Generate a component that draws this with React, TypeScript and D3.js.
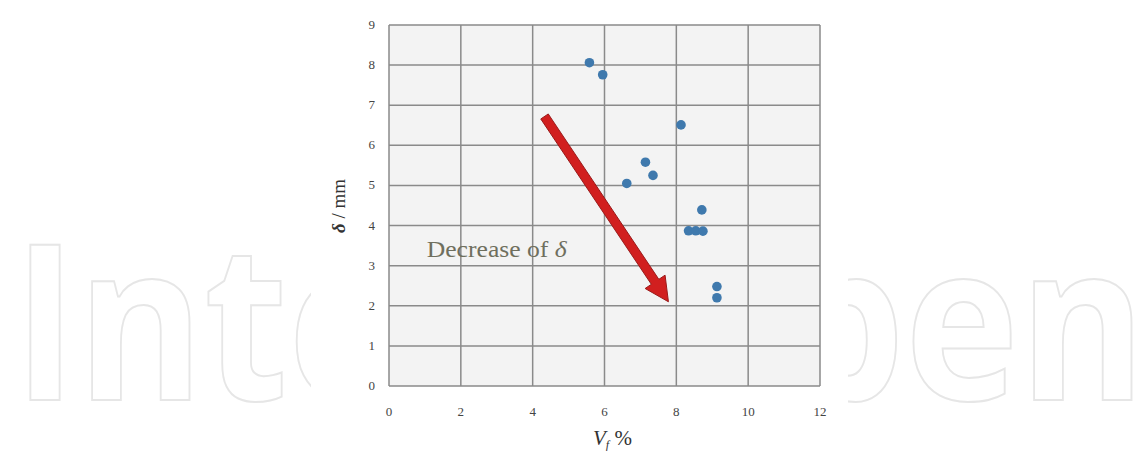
import React from "react";
import * as d3 from "d3";

// Fibre volume fraction (%) and measured deflection δ (mm)
const fibreContent = [5.58, 5.95, 8.13, 7.14, 7.35, 6.62, 8.71, 8.34, 8.54, 8.74, 9.13, 9.13];
const deflection = [8.06, 7.76, 6.51, 5.58, 5.25, 5.05, 4.39, 3.87, 3.87, 3.86, 2.48, 2.2];

const xTicks = [0, 2, 4, 6, 8, 10, 12];
const yTicks = [0, 1, 2, 3, 4, 5, 6, 7, 8, 9];

// Trend arrow from upper-left to lower-right, in data units
const arrowFrom = [4.33, 6.72];
const arrowTo = [7.78, 2.1];
const annotation = { text: "Decrease of ", x: 1.05, y: 3.22 };

const W = 1148;
const H = 451;

export default function App() {
  const x = d3.scaleLinear().domain([0, 12]).range([389, 820]);
  const y = d3.scaleLinear().domain([0, 9]).range([386, 25]);

  // Arrow polygon computed from scaled endpoints
  const x0 = x(arrowFrom[0]);
  const y0 = y(arrowFrom[1]);
  const x1 = x(arrowTo[0]);
  const y1 = y(arrowTo[1]);
  const dx = x1 - x0;
  const dy = y1 - y0;
  const len = Math.hypot(dx, dy);
  const ux = dx / len;
  const uy = dy / len;
  const nx = -uy;
  const ny = ux;
  const shaft = 4.5;
  const headW = 12;
  const headL = 24;
  const bx = x1 - ux * headL;
  const by = y1 - uy * headL;
  const arrowPts: [number, number][] = [
    [x0 + nx * shaft, y0 + ny * shaft],
    [bx + nx * shaft, by + ny * shaft],
    [bx + nx * headW, by + ny * headW],
    [x1, y1],
    [bx - nx * headW, by - ny * headW],
    [bx - nx * shaft, by - ny * shaft],
    [x0 - nx * shaft, y0 - ny * shaft],
  ];
  const arrowPath = d3.line()(arrowPts) + "Z";

  const [xMin, xMax] = x.range();
  const [yBot, yTop] = y.range();

  return (
    <svg
      width={W}
      height={H}
      style={{ position: "absolute", left: 0, top: 0 }}
      fontFamily="'Liberation Serif', serif"
    >
      <rect width={W} height={H} fill="#ffffff" />
      {/* publisher watermark behind the figure */}
      <text
        x={13}
        y={400}
        fontFamily="'Open Sans', sans-serif"
        fontWeight={700}
        fontSize={217}
        fill="none"
        stroke="#e6e6e6"
        strokeWidth={2}
        textLength={1133}
        lengthAdjust="spacingAndGlyphs"
      >
        IntechOpen
      </text>
      <rect x={311} y={0} width={537} height={H} fill="#ffffff" />

      {/* plot area */}
      <rect x={xMin} y={yTop} width={xMax - xMin} height={yBot - yTop} fill="#f3f3f3" />
      {yTicks.map((t) => (
        <line key={"gy" + t} x1={xMin} x2={xMax} y1={y(t)} y2={y(t)} stroke="#8a8a8a" strokeWidth={1.5} />
      ))}
      {xTicks.map((t) => (
        <line key={"gx" + t} x1={x(t)} x2={x(t)} y1={yTop} y2={yBot} stroke="#8a8a8a" strokeWidth={1.5} />
      ))}

      {/* tick labels */}
      {yTicks.map((t) => (
        <text key={"ty" + t} x={375} y={y(t) + 4} textAnchor="end" fontSize={13} fill="#444">
          {t}
        </text>
      ))}
      {xTicks.map((t) => (
        <text key={"tx" + t} x={x(t)} y={416} textAnchor="middle" fontSize={13} fill="#444">
          {t}
        </text>
      ))}

      {/* axis titles */}
      <text
        transform="translate(345,206) rotate(-90)"
        textAnchor="middle"
        fontSize={19}
        fill="#333"
      >
        <tspan fontStyle="italic" fontWeight="bold">δ</tspan>
        <tspan> / mm</tspan>
      </text>
      <text x={593} y={445} fontSize={21} fill="#333">
        <tspan fontStyle="italic">V</tspan>
        <tspan fontStyle="italic" fontSize={12} dy={4}>f</tspan>
        <tspan dy={-4}> %</tspan>
      </text>

      {/* data points */}
      {fibreContent.map((v, i) => (
        <circle key={"p" + i} cx={x(v)} cy={y(deflection[i])} r={4.8} fill="#3f79ad" />
      ))}

      {/* trend arrow */}
      <path d={arrowPath} fill="#d11f1f" stroke="#9a1a1a" strokeWidth={1} strokeLinejoin="miter" />

      <text
        x={x(annotation.x)}
        y={y(annotation.y)}
        fontSize={23}
        fill="#6f6f5e"
        textLength={140}
        lengthAdjust="spacingAndGlyphs"
      >
        {annotation.text}
        <tspan fontStyle="italic">δ</tspan>
      </text>
    </svg>
  );
}
